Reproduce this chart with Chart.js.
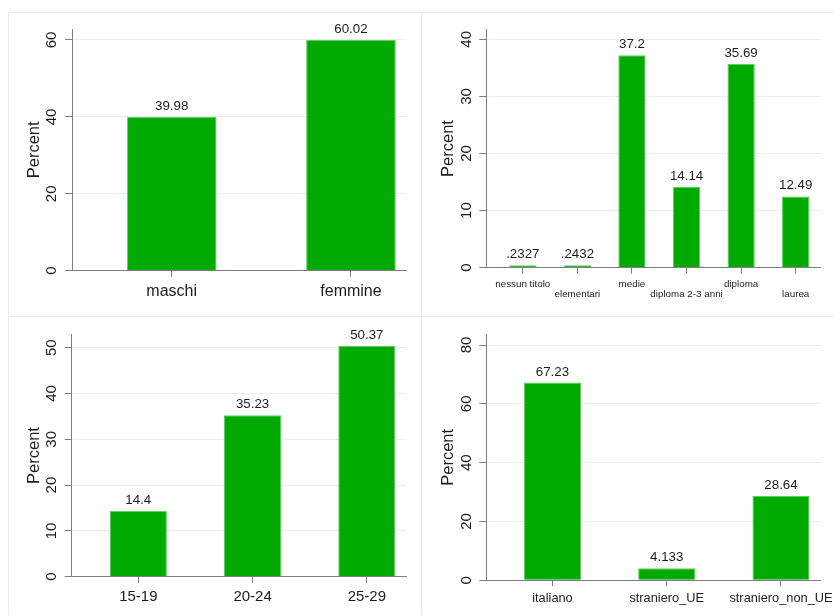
<!DOCTYPE html>
<html>
<head>
<meta charset="utf-8">
<script src="https://cdn.jsdelivr.net/npm/chart.js@4/dist/chart.umd.min.js"></script>
<style>
  html, body { margin: 0; padding: 0; background: #fff; width: 834px; height: 615px; overflow: hidden; }
  .frame { position: absolute; box-sizing: border-box; border-left: 1px solid #e4ecef; border-top: 1px solid #e4ecef; }
  canvas { position: absolute; }
</style>
</head>
<body>
<div class="frame" style="left:8px;top:12px;width:413px;height:304px"></div>
<div class="frame" style="left:421px;top:12px;width:413px;height:304px"></div>
<div class="frame" style="left:8px;top:316px;width:413px;height:299px"></div>
<div class="frame" style="left:421px;top:316px;width:413px;height:299px"></div>

<canvas id="sesso" width="414" height="305" style="left:8px;top:12px"></canvas>
<canvas id="titolo" width="412" height="305" style="left:422px;top:12px"></canvas>
<canvas id="eta" width="414" height="298" style="left:8px;top:317px"></canvas>
<canvas id="cittadinanza" width="412" height="298" style="left:422px;top:317px"></canvas>

<script>
// Sesso
const sessoCats = ['maschi', 'femmine'];
const sessoPct = [39.98, 60.02];
const sessoTicks = [0, 20, 40, 60];

// Titolo di studio
const titoloCats = ['nessun titolo', 'elementari', 'medie', 'diploma 2-3 anni', 'diploma', 'laurea'];
const titoloPct = [0.2327, 0.2432, 37.2, 14.14, 35.69, 12.49];
const titoloTicks = [0, 10, 20, 30, 40];

// Classe di età
const etaCats = ['15-19', '20-24', '25-29'];
const etaPct = [14.4, 35.23, 50.37];
const etaTicks = [0, 10, 20, 30, 40, 50];

// Cittadinanza
const cittCats = ['italiano', 'straniero_UE', 'straniero_non_UE'];
const cittPct = [67.23, 4.133, 28.64];
const cittTicks = [0, 20, 40, 60, 80];

const FONT = '"Liberation Sans", Arial, Helvetica, sans-serif';
const GREEN = '#00aa00';
const GREEN_EDGE = '#5fcf5f';
const AXIS = '#7d7d7d';
const GRID = '#e6eef1';
const TEXT = '#1c1c1c';

// four significant digits, no leading zero (".2327")
function pctLabel(v) {
  let s = String(parseFloat(v.toPrecision(4)));
  if (s.startsWith('0.')) s = s.slice(1);
  return s;
}

const valueLabels = {
  id: 'valueLabels',
  afterDatasetsDraw(chart) {
    const ctx = chart.ctx;
    const meta = chart.getDatasetMeta(0);
    const pts = chart.data.datasets[0].data;
    const zero = chart.scales.y.getPixelForValue(0);
    ctx.save();
    ctx.font = '13.3px ' + FONT;
    ctx.fillStyle = TEXT;
    ctx.textAlign = 'center';
    ctx.textBaseline = 'alphabetic';
    meta.data.forEach((bar, i) => {
      const top = Math.min(bar.y, zero - 2);
      ctx.fillText(pctLabel(pts[i].y), bar.x, top - 7);
    });
    ctx.restore();
  }
};

function panel(id, cats, vals, ticks, g) {
  return new Chart(document.getElementById(id), {
    type: 'bar',
    data: {
      datasets: [{
        data: vals.map((v, i) => ({ x: i, y: v })),
        backgroundColor: GREEN,
        borderColor: GREEN_EDGE,
        borderWidth: 1,
        borderSkipped: 'bottom',
        minBarLength: 2.5,
        categoryPercentage: 1,
        barPercentage: 0.5
      }]
    },
    options: {
      responsive: false,
      animation: false,
      devicePixelRatio: 1,
      layout: { padding: { left: 0, top: g.top, right: g.right, bottom: 0 } },
      plugins: { legend: { display: false }, tooltip: { enabled: false } },
      scales: {
        x: {
          type: 'linear',
          offset: false,
          min: g.xMin,
          max: g.xMax,
          afterBuildTicks: s => { s.ticks = cats.map((c, i) => ({ value: i })); },
          afterFit: s => { s.height = g.xAxisH; s.paddingLeft = 0; s.paddingRight = 0; },
          grid: { offset: false, drawOnChartArea: false, drawTicks: true, tickLength: 6, tickColor: AXIS, tickWidth: 1 },
          border: { display: true, color: AXIS, width: 1, z: 1 },
          ticks: {
            autoSkip: false,
            minRotation: 0,
            maxRotation: 0,
            padding: g.xPad,
            color: TEXT,
            font: { family: FONT, size: g.xFont, lineHeight: g.xLH },
            callback: (v, i) => (g.alternate && i % 2 === 1) ? ['', cats[v]] : cats[v]
          }
        },
        y: {
          min: 0,
          max: g.yMax,
          afterBuildTicks: s => { s.ticks = ticks.map(v => ({ value: v })); },
          afterFit: s => { s.width = g.left; s.paddingTop = 0; s.paddingBottom = 0; },
          grid: {
            color: c => (c.tick && c.tick.value === 0) ? 'rgba(0,0,0,0)' : GRID,
            lineWidth: 1,
            drawTicks: true,
            tickLength: 7,
            tickColor: AXIS,
            tickWidth: 1
          },
          border: { display: true, color: AXIS, width: 1, z: 1 },
          ticks: {
            minRotation: 90,
            maxRotation: 90,
            crossAlign: 'center',
            padding: 4.5,
            color: TEXT,
            font: { family: FONT, size: 15 }
          },
          title: {
            display: true,
            text: 'Percent',
            color: TEXT,
            font: { family: FONT, size: 16.5, lineHeight: 1.2 },
            padding: { top: 16.5, bottom: 0 }
          }
        }
      }
    },
    plugins: [valueLabels]
  });
}

panel('sesso', sessoCats, sessoPct, sessoTicks, {
  left: 64, top: 17, right: 16, xAxisH: 46.3,
  xMin: -0.556, xMax: 1.307, yMax: 62.86,
  xFont: 16, xLH: 1.2, xPad: 5.5
});
panel('titolo', titoloCats, titoloPct, titoloTicks, {
  left: 64.3, top: 17.3, right: 13.7, xAxisH: 49.3,
  xMin: -0.669, xMax: 5.451, yMax: 41.75,
  xFont: 9.8, xLH: 1.02, xPad: 5.3, alternate: true
});
panel('eta', etaCats, etaPct, etaTicks, {
  left: 63.7, top: 17.3, right: 16, xAxisH: 38.3,
  xMin: -0.583, xMax: 2.343, yMax: 52.93,
  xFont: 15, xLH: 1.2, xPad: 5
});
panel('cittadinanza', cittCats, cittPct, cittTicks, {
  left: 64.3, top: 17.3, right: 13.7, xAxisH: 34.7,
  xMin: -0.579, xMax: 2.344, yMax: 83.64,
  xFont: 12.8, xLH: 1.2, xPad: 4.3
});
</script>
</body>
</html>
